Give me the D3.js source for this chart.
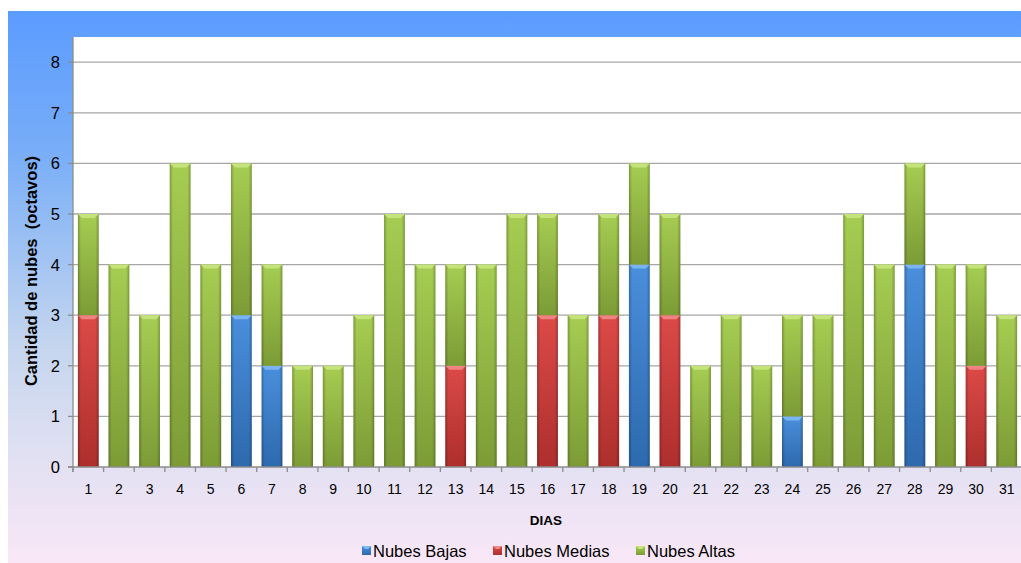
<!DOCTYPE html>
<html><head><meta charset="utf-8">
<script src="https://cdn.jsdelivr.net/npm/d3@7"></script>
<style>body{margin:0;background:#fff;}svg{display:block;font-family:Arial,"Liberation Sans",sans-serif;}text{white-space:pre;}</style>
</head><body>
<svg id="c" width="1021" height="563"></svg>
<script>
const days = d3.range(1,32).map(String);
const bajas  = [0,0,0,0,0,3,2,0,0,0,0,0,0,0,0,0,0,0,4,0,0,0,0,1,0,0,0,4,0,0,0];
const medias = [3,0,0,0,0,0,0,0,0,0,0,0,2,0,0,3,0,3,0,3,0,0,0,0,0,0,0,0,0,2,0];
const altas  = [2,4,3,6,4,3,2,2,2,3,5,4,2,4,5,2,3,2,2,2,2,3,2,2,3,5,4,2,4,2,3];
const yTicks = [0,1,2,3,4,5,6,7,8];
const seriesNames = ["Nubes Bajas","Nubes Medias","Nubes Altas"];

(function(){
const svg = d3.select("#c");
const defs = svg.append("defs");
const bg = defs.append("linearGradient").attr("id","bg").attr("x1",0).attr("y1",0).attr("x2",0).attr("y2",1);
[[0,"#5c9cff"],[0.25,"#77adf8"],[0.6,"#c3d5ee"],[0.8,"#e0e0f2"],[1,"#f9e7f7"]].forEach(s=>bg.append("stop").attr("offset",s[0]).attr("stop-color",s[1]));
svg.append("rect").attr("x",8).attr("y",11).attr("width",1013).attr("height",552).attr("fill","url(#bg)");

const colors = {
  "Nubes Bajas":["#4a8fdc","#2d69ad","#7fb9f3"],
  "Nubes Medias":["#dc4a47","#ad2f2d","#f08a88"],
  "Nubes Altas":["#a6cd52","#7c9b36","#c8e580"]
};
seriesNames.forEach((n,i)=>{
  const g = defs.append("linearGradient").attr("id","g"+i).attr("x1",0).attr("y1",0).attr("x2",0).attr("y2",1);
  g.append("stop").attr("offset",0).attr("stop-color",colors[n][0]);
  g.append("stop").attr("offset",1).attr("stop-color",colors[n][1]);
});
const edge = defs.append("linearGradient").attr("id","edge").attr("x1",0).attr("y1",0).attr("x2",1).attr("y2",0);
[[0,0.25],[0.15,0],[0.85,0],[1,0.25]].forEach(s=>edge.append("stop").attr("offset",s[0]).attr("stop-color","#000").attr("stop-opacity",s[1]));

const pL=73, pR=1022, pT=37, pB=467;
svg.append("rect").attr("x",pL).attr("y",pT).attr("width",1021-pL).attr("height",pB-pT).attr("fill","#fff");

const x = d3.scaleBand().domain(days).range([pL,pR]).paddingInner(0.32).paddingOuter(0.16);
const y = d3.scaleLinear().domain([0,8.5]).range([pB, pB-8.5*50.6]);

svg.append("g").selectAll("line").data(yTicks.slice(1)).join("line")
  .attr("x1",pL).attr("x2",1021).attr("y1",d=>y(d)).attr("y2",d=>y(d))
  .attr("stroke","#a6a6a6").attr("stroke-width",1.3);

const rows = days.map((d,i)=>({day:d,"Nubes Bajas":bajas[i],"Nubes Medias":medias[i],"Nubes Altas":altas[i]}));
const stack = d3.stack().keys(seriesNames)(rows);
stack.forEach((layer,li)=>{
  const g = svg.append("g");
  layer.forEach(seg=>{
    if(seg[1]-seg[0]<=0) return;
    const bx = x(seg.data.day), bw = x.bandwidth();
    const y0 = y(seg[0]), y1 = y(seg[1]);
    g.append("rect").attr("x",bx).attr("y",y1).attr("width",bw).attr("height",y0-y1).attr("fill",`url(#g${li})`);
    g.append("rect").attr("x",bx).attr("y",y1).attr("width",bw).attr("height",y0-y1).attr("fill","url(#edge)");
    const b=4;
    g.append("path").attr("d",`M${bx},${y1}L${bx+bw},${y1}L${bx+bw-b},${y1+b}L${bx+b},${y1+b}Z`)
      .attr("fill",colors[layer.key][2]).attr("opacity",0.9);
  });
});

svg.append("line").attr("x1",pL).attr("x2",pL).attr("y1",pT).attr("y2",pB+5).attr("stroke","#8c8c8c").attr("stroke-width",1.3);
svg.append("line").attr("x1",pL-5).attr("x2",1021).attr("y1",pB).attr("y2",pB).attr("stroke","#8c8c8c").attr("stroke-width",1.3);
svg.append("g").selectAll("line").data(yTicks).join("line")
  .attr("x1",pL-5).attr("x2",pL).attr("y1",d=>y(d)).attr("y2",d=>y(d)).attr("stroke","#8c8c8c").attr("stroke-width",1.3);
svg.append("g").selectAll("text").data(yTicks).join("text")
  .attr("x",pL-13).attr("y",d=>y(d)+6).attr("text-anchor","end").attr("font-size",16.5).attr("fill","#000").text(d=>d);
const step = x.step();
svg.append("g").selectAll("line").data(d3.range(0,32)).join("line")
  .attr("x1",d=>pL+d*step).attr("x2",d=>pL+d*step).attr("y1",pB).attr("y2",pB+5).attr("stroke","#8c8c8c").attr("stroke-width",1.3);
svg.append("g").selectAll("text").data(days).join("text")
  .attr("x",d=>x(d)+x.bandwidth()/2).attr("y",pB+27).attr("text-anchor","middle").attr("font-size",14).attr("fill","#000").text(d=>d);

svg.append("text").attr("x",546).attr("y",525).attr("text-anchor","middle").attr("font-size",13.5).attr("font-weight","bold").text("DIAS");
svg.append("text").attr("transform","translate(37,271) rotate(-90)").attr("text-anchor","middle").attr("font-size",16.5).attr("font-weight","bold").text("Cantidad de nubes  (octavos)");

const legX = [362, 493, 636];
seriesNames.forEach((n,i)=>{
  const lg = svg.append("g").attr("transform",`translate(${legX[i]},546)`);
  lg.append("rect").attr("width",9).attr("height",9).attr("fill",`url(#g${i})`);
  lg.append("path").attr("d","M0,0L9,0L6,3L3,3Z").attr("fill",colors[n][2]);
  lg.append("text").attr("x",11).attr("y",10.5).attr("font-size",16.5).attr("fill","#000").text(n);
});
})();
</script>
</body></html>
